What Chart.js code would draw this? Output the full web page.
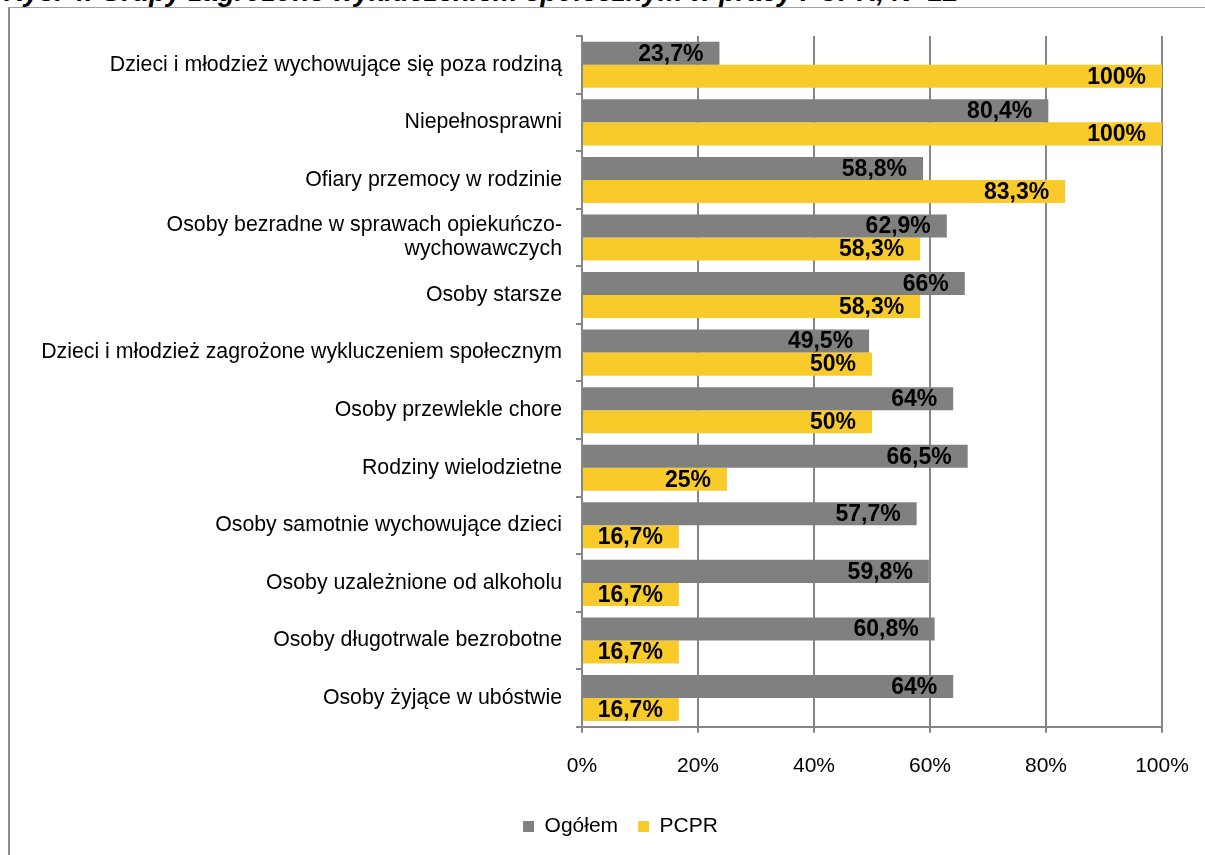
<!DOCTYPE html>
<html lang="pl">
<head>
<meta charset="UTF-8">
<title>Grupy zagrożone wykluczeniem społecznym</title>
<script src="https://cdn.jsdelivr.net/npm/chart.js"></script>
<style>
    html, body {
        margin: 0;
        padding: 0;
        background: #ffffff;
        overflow: hidden;
    }
    #title {
        position: absolute;
        left: 4px;
        top: -22px;
        font: bold italic 27.5px Arial, "Liberation Sans", sans-serif;
        line-height: 27px;
        color: #000;
        white-space: nowrap;
    }
    #frame {
        position: absolute;
        left: 8px;
        top: 7px;
        width: 1300px;
        height: 1000px;
        border-left: 2px solid #8c8c8c;
        border-top: 1px solid #a0a0a0;
    }
    #wrap {
        position: absolute;
        left: 0;
        top: 0;
        width: 1205px;
        height: 855px;
    }
</style>
</head>
<body>
<div id="frame"></div>
<div id="title">Rys. 4. Grupy zagrożone wykluczeniem społecznym w pracy PCPR, N=12</div>
<div id="wrap"><canvas id="chart" width="1205" height="855"></canvas></div>

<script>
    const categories = [
        'Dzieci i młodzież wychowujące się poza rodziną',
        'Niepełnosprawni',
        'Ofiary przemocy w rodzinie',
        ['Osoby bezradne w sprawach opiekuńczo-', 'wychowawczych'],
        'Osoby starsze',
        'Dzieci i młodzież zagrożone wykluczeniem społecznym',
        'Osoby przewlekle chore',
        'Rodziny wielodzietne',
        'Osoby samotnie wychowujące dzieci',
        'Osoby uzależnione od alkoholu',
        'Osoby długotrwale bezrobotne',
        'Osoby żyjące w ubóstwie'
    ];
    const ogolem = [23.7, 80.4, 58.8, 62.9, 66, 49.5, 64, 66.5, 57.7, 59.8, 60.8, 64];
    const pcpr = [100, 100, 83.3, 58.3, 58.3, 50, 50, 25, 16.7, 16.7, 16.7, 16.7];
    const xTicks = [0, 20, 40, 60, 80, 100];

    const FONT = 'Arial, "Liberation Sans", sans-serif';
    const GRID = '#878787';

    function pct(v) {
        return String(v).replace('.', ',') + '%';
    }

    // napisy z wartościami na końcu słupków
    const valueLabels = {
        id: 'valueLabels',
        afterDatasetsDraw(chart) {
            const { ctx } = chart;
            ctx.save();
            ctx.font = 'bold 23px ' + FONT;
            ctx.fillStyle = '#000';
            ctx.textAlign = 'right';
            ctx.textBaseline = 'middle';
            chart.data.datasets.forEach((ds, di) => {
                chart.getDatasetMeta(di).data.forEach((bar, i) => {
                    ctx.fillText(pct(ds.data[i]), bar.x - 16, bar.y + 1);
                });
            });
            ctx.restore();
        }
    };

    new Chart(document.getElementById('chart'), {
        type: 'bar',
        data: {
            labels: categories,
            datasets: [
                { label: 'Ogółem', data: ogolem, backgroundColor: '#808080' },
                { label: 'PCPR', data: pcpr, backgroundColor: '#F8CB2B' }
            ]
        },
        options: {
            indexAxis: 'y',
            responsive: false,
            animation: false,
            categoryPercentage: 0.8,
            barPercentage: 1.0,
            layout: { padding: { top: 36, left: 40, right: 4, bottom: 8 } },
            plugins: {
                legend: {
                    position: 'bottom',
                    labels: {
                        boxWidth: 11,
                        boxHeight: 11,
                        padding: 20,
                        color: '#000',
                        font: { family: FONT, size: 21 }
                    }
                },
                tooltip: { enabled: false }
            },
            scales: {
                x: {
                    min: 0,
                    max: 100,
                    afterBuildTicks(axis) {
                        axis.ticks = xTicks.map(v => ({ value: v }));
                    },
                    afterFit(axis) {
                        axis.height -= 4;
                        axis.paddingRight = 43;
                    },
                    ticks: {
                        callback: v => v + '%',
                        color: '#000',
                        padding: 21,
                        font: { family: FONT, size: 21 }
                    },
                    grid: { color: GRID, lineWidth: 2, tickLength: 6 },
                    border: { color: GRID, width: 2 }
                },
                y: {
                    afterFit(axis) { axis.width = 542; },
                    ticks: {
                        color: '#000',
                        padding: 14,
                        font: { family: FONT, size: 21.3, lineHeight: 1.12 }
                    },
                    grid: {
                        offset: true,
                        drawOnChartArea: false,
                        color: GRID,
                        lineWidth: 2,
                        tickLength: 6
                    },
                    border: { color: GRID, width: 2 }
                }
            }
        },
        plugins: [valueLabels]
    });
</script>
</body>
</html>
